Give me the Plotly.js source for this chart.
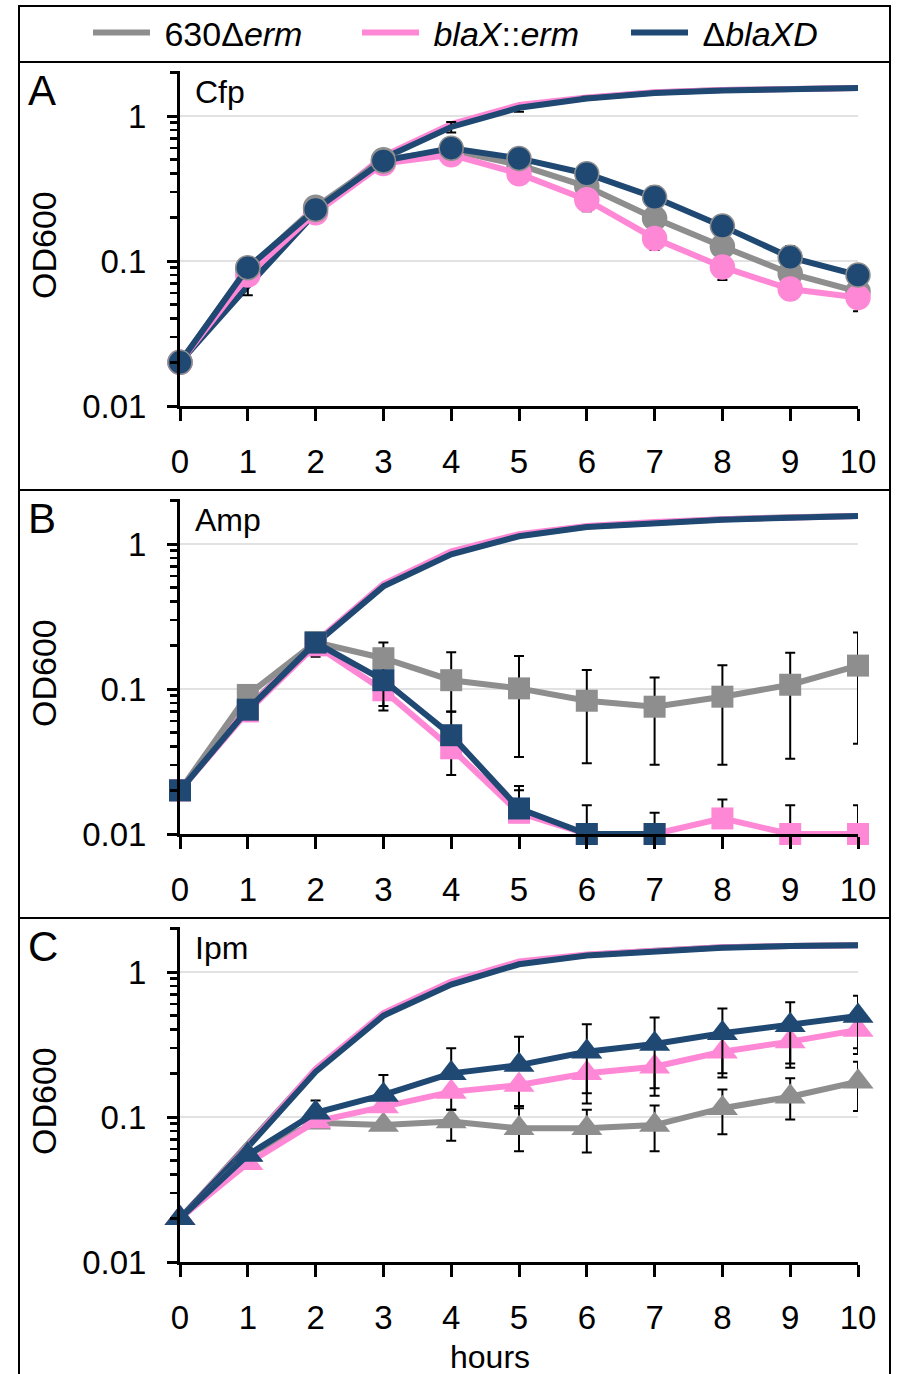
<!DOCTYPE html>
<html>
<head>
<meta charset="utf-8">
<script src="https://cdn.plot.ly/plotly-3.0.1.min.js"></script>
<style>html,body{margin:0;padding:0;background:#fff;}#chart{width:898px;height:1374px;}</style>
</head>
<body>
<div id="chart"></div>
<script>
// ---------------- DATA ----------------
const hours = [0, 1, 2, 3, 4, 5, 6, 7, 8, 9, 10];
const strainNames = ['630Δ<i>erm</i>', '<i>blaX</i>::<i>erm</i>', 'Δ<i>blaXD</i>'];
const panelLetters = ['A', 'B', 'C'];
const antibiotics = ['Cfp', 'Amp', 'Ipm'];
const yTickVals = [0.01, 0.1, 1];
const yTickText = ['0.01', '0.1', '1'];
const yMinorVals = [0.02,0.03,0.04,0.05,0.06,0.07,0.08,0.09,0.2,0.3,0.4,0.5,0.6,0.7,0.8,0.9,2];

// Panel A – Cfp : untreated growth (lines only)
const A_ctrl_630   = [0.02, 0.075, 0.22, 0.52, 0.86, 1.17, 1.33, 1.45, 1.51, 1.54, 1.56];
const A_ctrl_blaX  = [0.02, 0.072, 0.22, 0.53, 0.88, 1.19, 1.34, 1.46, 1.51, 1.54, 1.56];
const A_ctrl_dXD   = [0.02, 0.067, 0.215, 0.51, 0.84, 1.14, 1.32, 1.44, 1.50, 1.54, 1.56];
const A_ctrl_dXD_hi = [null, null, null, null, 0.91, null, 1.36, null, null, null, 1.58];
const A_ctrl_dXD_lo = [null, null, null, null, 0.77, 1.07, null, null, null, null, 1.55];
// Panel A – Cfp : treated
const A_630  = [0.02, 0.088, 0.235, 0.50, 0.58, 0.46, 0.326, 0.197, 0.126, 0.082, 0.0615];
const A_blaX = [0.02, 0.080, 0.215, 0.47, 0.54, 0.40, 0.264, 0.143, 0.091, 0.064, 0.056];
const A_dXD  = [0.02, 0.090, 0.227, 0.49, 0.60, 0.51, 0.40, 0.275, 0.174, 0.106, 0.080];
const A_blaX_lo = [null, 0.058, 0.20, 0.45, 0.50, 0.345, 0.22, 0.119, 0.074, 0.054, 0.045];
const A_dXD_hi  = [null, null, null, null, 0.66, 0.55, 0.47, 0.326, 0.205, 0.127, 0.085];

// Panel B – Amp : untreated growth
const B_ctrl_630  = [0.02, 0.075, 0.21, 0.52, 0.87, 1.15, 1.32, 1.41, 1.48, 1.53, 1.56];
const B_ctrl_blaX = [0.02, 0.074, 0.21, 0.53, 0.89, 1.17, 1.33, 1.42, 1.48, 1.53, 1.56];
const B_ctrl_dXD  = [0.02, 0.072, 0.205, 0.51, 0.85, 1.13, 1.31, 1.40, 1.47, 1.52, 1.56];
// Panel B – Amp : treated
const B_630  = [0.02, 0.091, 0.21, 0.163, 0.115, 0.101, 0.083, 0.0755, 0.0885, 0.107, 0.145];
const B_blaX = [0.02, 0.070, 0.20, 0.098, 0.039, 0.014, 0.010, 0.010, 0.0128, 0.010, 0.010];
const B_dXD  = [0.02, 0.072, 0.209, 0.115, 0.048, 0.015, 0.010, 0.010, null, null, null];
const B_630_hi  = [null, null, null, 0.209, 0.179, 0.169, 0.135, 0.12, 0.146, 0.178, 0.245];
const B_630_lo  = [null, null, null, 0.13, 0.0697, 0.034, 0.0307, 0.030, 0.030, 0.033, 0.042];
const B_blaX_hi = [null, null, null, null, null, 0.0214, 0.0158, 0.014, 0.0173, 0.0158, 0.0158];
const B_blaX_lo = [null, null, 0.167, 0.071, 0.0255, null, null, null, null, null, null];
const B_dXD_hi  = [null, null, null, null, 0.07, 0.020, null, null, null, null, null];
const B_dXD_lo  = [null, null, null, 0.0764, null, null, null, null, null, null, null];

// Panel C – Ipm : untreated growth
const C_ctrl_630  = [0.02, 0.064, 0.212, 0.51, 0.84, 1.16, 1.31, 1.40, 1.48, 1.51, 1.53];
const C_ctrl_blaX = [0.02, 0.063, 0.215, 0.52, 0.86, 1.18, 1.32, 1.41, 1.48, 1.51, 1.53];
const C_ctrl_dXD  = [0.02, 0.062, 0.205, 0.50, 0.82, 1.13, 1.30, 1.39, 1.47, 1.51, 1.53];
// Panel C – Ipm : treated
const C_630  = [0.02, 0.055, 0.0914, 0.088, 0.093, 0.0835, 0.0835, 0.088, 0.115, 0.138, 0.175];
const C_blaX = [0.02, 0.048, 0.093, 0.118, 0.149, 0.166, 0.20, 0.222, 0.282, 0.331, 0.398];
const C_dXD  = [0.02, 0.0547, 0.107, 0.142, 0.20, 0.228, 0.282, 0.319, 0.378, 0.43, 0.497];
const C_630_hi  = [null, null, null, null, 0.112, 0.119, 0.112, 0.12, 0.155, 0.185, 0.24];
const C_630_lo  = [null, null, null, null, 0.0687, 0.058, 0.057, 0.058, 0.076, 0.096, 0.11];
const C_blaX_lo = [null, null, null, null, 0.112, 0.115, 0.124, 0.14, 0.187, 0.219, 0.272];
const C_dXD_hi  = [null, null, 0.13, 0.195, 0.298, 0.358, 0.436, 0.486, 0.561, 0.618, 0.687];
const C_dXD_lo  = [null, null, null, null, null, null, 0.146, 0.158, 0.20, 0.234, 0.298];

// ---------------- STYLE ----------------
const W = 898, H = 1374;
const FONT = 'Arial, "Liberation Sans", sans-serif';
const colors = ['#8e8e8e', '#ff88d6', '#1f4873'];
const symbols = ['circle', 'square', 'triangle-up'];
const markerSizes = [24, 22, 27];
const px = x => x / W;
const py = y => 1 - y / H;

// panel geometry (pixels)
const panelBottomPx = [406, 834, 1262];
const decadePx = 145;
const topLog = 0.31;
const xLeftPx = 180, xRightPx = 858;
const boxTopPx = [62, 490, 918];
const boxBottomPx = [490, 918, 1380];

function errBars(y, hi, lo) {
  const plus = [], minus = [];
  for (let i = 0; i < y.length; i++) {
    const h = hi ? hi[i] : null, l = lo ? lo[i] : null;
    if ((h == null && l == null) || y[i] == null) { plus.push(NaN); minus.push(NaN); continue; }
    plus.push(h == null ? 0 : h - y[i]);
    minus.push(l == null ? 0 : y[i] - l);
  }
  return {type: 'data', symmetric: false, array: plus, arrayminus: minus,
          color: '#000', thickness: 2, width: 5, visible: true};
}

const ctrlData = [
  [A_ctrl_630, A_ctrl_blaX, A_ctrl_dXD],
  [B_ctrl_630, B_ctrl_blaX, B_ctrl_dXD],
  [C_ctrl_630, C_ctrl_blaX, C_ctrl_dXD]
];
const ctrlErr = [
  [null, null, [A_ctrl_dXD_hi, A_ctrl_dXD_lo]],
  [null, null, null],
  [null, null, null]
];
const treatData = [
  [A_630, A_blaX, A_dXD],
  [B_630, B_blaX, B_dXD],
  [C_630, C_blaX, C_dXD]
];
const treatErr = [
  [null, [null, A_blaX_lo], [A_dXD_hi, null]],
  [[B_630_hi, B_630_lo], [B_blaX_hi, B_blaX_lo], [B_dXD_hi, B_dXD_lo]],
  [[C_630_hi, C_630_lo], [null, C_blaX_lo], [C_dXD_hi, C_dXD_lo]]
];

const traces = [];
for (let p = 0; p < 3; p++) {
  const xa = p === 0 ? 'x' : 'x' + (p + 1);
  const ya = p === 0 ? 'y' : 'y' + (p + 1);
  for (let s = 0; s < 3; s++) {
    const e = ctrlErr[p][s];
    traces.push({
      type: 'scatter', mode: 'lines', x: hours, y: ctrlData[p][s],
      xaxis: xa, yaxis: ya, name: '\u00a0' + strainNames[s], legendgroup: 's' + s,
      showlegend: p === 0, line: {color: colors[s], width: 6},
      error_y: e ? errBars(ctrlData[p][s], e[0], e[1]) : {visible: false},
      cliponaxis: false, hoverinfo: 'skip'
    });
  }
  for (let s = 0; s < 3; s++) {
    const e = treatErr[p][s];
    traces.push({
      type: 'scatter', mode: 'lines+markers', x: hours, y: treatData[p][s],
      xaxis: xa, yaxis: ya, name: strainNames[s], legendgroup: 's' + s,
      showlegend: false, line: {color: colors[s], width: 6},
      marker: {symbol: symbols[p], size: markerSizes[p], color: colors[s],
               line: {color: p === 0 && s !== 1 ? '#8e8e8e' : colors[s], width: p === 0 ? 1.5 : 0}},
      error_y: e ? errBars(treatData[p][s], e[0], e[1]) : {visible: false},
      cliponaxis: false, hoverinfo: 'skip'
    });
  }
}

const layout = {
  width: W, height: H,
  margin: {l: 0, r: 0, t: 0, b: 0, autoexpand: false},
  paper_bgcolor: '#fff', plot_bgcolor: 'rgba(0,0,0,0)',
  font: {family: FONT, color: '#000', size: 33},
  showlegend: true,
  legend: {orientation: 'h', x: px(88), xanchor: 'left', y: py(33), yanchor: 'middle',
           font: {family: FONT, size: 34, color: '#000'}, bgcolor: 'rgba(0,0,0,0)',
           borderwidth: 0, itemwidth: 57, entrywidth: 197, entrywidthmode: 'pixels'},
  shapes: [], annotations: []
};

for (let p = 0; p < 3; p++) {
  const sfx = p === 0 ? '' : String(p + 1);
  const bottom = panelBottomPx[p];
  const top = bottom - (topLog + 2) * decadePx;
  layout['xaxis' + sfx] = {
    domain: [px(xLeftPx), px(xRightPx)], range: [0, 10], anchor: 'y' + sfx,
    tickmode: 'array', tickvals: hours, ticktext: hours.map(String),
    ticks: 'outside', ticklen: 12, tickwidth: 3, tickcolor: '#000', ticklabelstandoff: 12,
    showline: true, linewidth: 3, linecolor: '#000', showgrid: false, zeroline: false,
    tickfont: {family: FONT, size: 33, color: '#000'}, fixedrange: true
  };
  layout['yaxis' + sfx] = {
    type: 'log', domain: [py(bottom), py(top)], range: [-2, topLog], anchor: 'x' + sfx,
    tickmode: 'array', tickvals: yTickVals, ticktext: yTickText,
    ticks: 'outside', ticklen: 10, tickwidth: 3, tickcolor: '#000', ticklabelstandoff: 14,
    showline: true, linewidth: 3, linecolor: '#000',
    showgrid: true, gridcolor: '#e2e2e2', gridwidth: 2, zeroline: false,
    minor: {tickmode: 'array', tickvals: yMinorVals, ticks: 'outside', ticklen: 7,
            tickwidth: 2.5, tickcolor: '#000', showgrid: false},
    tickfont: {family: FONT, size: 33, color: '#000'}, fixedrange: true
  };
  // panel box
  layout.shapes.push({type: 'rect', xref: 'paper', yref: 'paper',
    x0: px(19), x1: px(890), y0: py(boxBottomPx[p]), y1: py(boxTopPx[p]),
    line: {color: '#000', width: 2}, fillcolor: 'rgba(0,0,0,0)', layer: 'below'});
  // panel letter
  layout.annotations.push({xref: 'paper', yref: 'paper', x: px(26), y: py(boxTopPx[p] + 28),
    xanchor: 'left', yanchor: 'middle', showarrow: false, text: panelLetters[p],
    font: {family: FONT, size: 42, color: '#000'}});
  // antibiotic label
  layout.annotations.push({xref: 'paper', yref: 'paper', x: px(193), y: py(boxTopPx[p] + 30),
    xanchor: 'left', yanchor: 'middle', showarrow: false, text: antibiotics[p],
    font: {family: FONT, size: 32, color: '#000'}});
  // y title
  layout.annotations.push({xref: 'paper', yref: 'paper', x: px(44), y: py(bottom - 161),
    xanchor: 'center', yanchor: 'middle', showarrow: false, text: 'OD600', textangle: -90,
    font: {family: FONT, size: 34, color: '#000'}});
}
// legend box
layout.shapes.push({type: 'rect', xref: 'paper', yref: 'paper',
  x0: px(19), x1: px(890), y0: py(62), y1: py(6),
  line: {color: '#000', width: 2}, fillcolor: 'rgba(0,0,0,0)', layer: 'below'});
// x title
layout.annotations.push({xref: 'paper', yref: 'paper', x: px(490), y: py(1357),
  xanchor: 'center', yanchor: 'middle', showarrow: false, text: 'hours',
  font: {family: FONT, size: 32, color: '#000'}});

Plotly.newPlot('chart', traces, layout, {staticPlot: true, displayModeBar: false});
</script>
</body>
</html>
